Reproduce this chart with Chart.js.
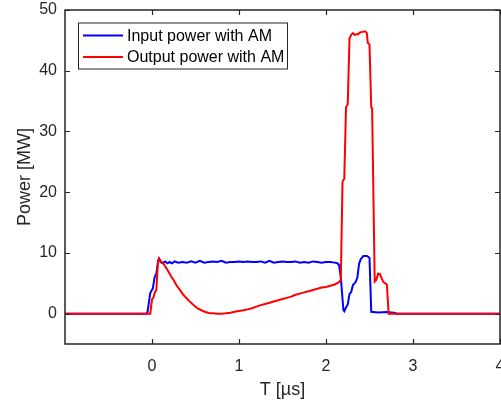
<!DOCTYPE html>
<html><head><meta charset="utf-8">
<script src="https://cdn.jsdelivr.net/npm/chart.js@4/dist/chart.umd.min.js"></script>
<style>html,body{margin:0;padding:0;background:#fff}#wrap{width:501px;height:403px}</style>
</head><body><div id="wrap"><canvas id="c" width="501" height="403"></canvas></div>
<script>
// Input power with AM (time in µs, power in MW)
const tIn = [-1, -0.06, -0.05, -0.02, 0.01, 0.03, 0.05, 0.07, 0.085, 0.1, 0.12, 0.15, 0.18, 0.2, 0.23, 0.26, 0.3, 0.35, 0.4, 0.45, 0.5, 0.55, 0.6, 0.65, 0.7, 0.75, 0.8, 0.85, 0.9, 0.95, 1.0, 1.05, 1.1, 1.15, 1.2, 1.25, 1.3, 1.35, 1.4, 1.45, 1.5, 1.55, 1.6, 1.65, 1.7, 1.75, 1.8, 1.85, 1.9, 1.95, 2.0, 2.05, 2.1, 2.13, 2.15, 2.16, 2.17, 2.2, 2.21, 2.23, 2.25, 2.27, 2.29, 2.31, 2.34, 2.36, 2.38, 2.4, 2.43, 2.47, 2.5, 2.52, 2.6, 2.7, 2.78, 2.82, 4];
const pIn = [0, 0, 0.4, 3.4, 4.2, 6.0, 6.6, 8.6, 9.0, 8.5, 8.3, 8.6, 8.3, 8.5, 8.3, 8.6, 8.4, 8.5, 8.4, 8.6, 8.4, 8.7, 8.4, 8.5, 8.6, 8.5, 8.7, 8.4, 8.5, 8.5, 8.6, 8.5, 8.6, 8.5, 8.5, 8.6, 8.4, 8.7, 8.4, 8.5, 8.6, 8.5, 8.5, 8.6, 8.4, 8.5, 8.4, 8.6, 8.5, 8.4, 8.5, 8.5, 8.4, 8.3, 8.0, 7.0, 6.0, 0.6, 0.4, 1.0, 1.5, 3.2, 3.6, 4.7, 5.2, 5.9, 8.2, 9.0, 9.5, 9.5, 9.2, 0.3, 0.2, 0.25, 0.15, 0, 0];
// Output power with AM
const tOut = [-1, -0.02, 0.0, 0.02, 0.03, 0.05, 0.07, 0.08, 0.1, 0.13, 0.16, 0.19, 0.22, 0.25, 0.28, 0.32, 0.36, 0.4, 0.44, 0.48, 0.52, 0.56, 0.6, 0.65, 0.7, 0.75, 0.8, 0.85, 0.9, 0.95, 1.0, 1.05, 1.1, 1.15, 1.2, 1.25, 1.3, 1.35, 1.4, 1.45, 1.5, 1.55, 1.6, 1.65, 1.7, 1.75, 1.8, 1.85, 1.9, 1.95, 2.0, 2.05, 2.1, 2.14, 2.17, 2.19, 2.21, 2.23, 2.25, 2.27, 2.29, 2.31, 2.33, 2.35, 2.37, 2.39, 2.42, 2.45, 2.47, 2.48, 2.5, 2.52, 2.53, 2.56, 2.58, 2.6, 2.62, 2.64, 2.66, 2.7, 2.72, 4];
const pOut = [0, 0, 2.3, 2.8, 3.4, 3.9, 8.8, 9.0, 8.6, 8.3, 7.6, 6.9, 6.1, 5.5, 4.7, 3.9, 3.1, 2.5, 1.9, 1.4, 0.9, 0.6, 0.35, 0.1, 0.05, 0, 0, 0.05, 0.15, 0.3, 0.45, 0.55, 0.7, 0.9, 1.15, 1.4, 1.6, 1.8, 2.0, 2.2, 2.4, 2.6, 2.8, 3.1, 3.3, 3.5, 3.7, 3.9, 4.1, 4.3, 4.4, 4.6, 4.8, 5.1, 5.5, 21.8, 22.2, 34.0, 34.5, 45.3, 45.9, 46.2, 45.9, 46.0, 46.0, 46.3, 46.4, 46.5, 46.2, 44.6, 44.3, 34.0, 33.8, 5.3, 5.6, 6.6, 6.5, 5.8, 5.2, 4.8, 0, 0];

const xTicks = [0, 1, 2, 3, 4];
const yTicks = [0, 10, 20, 30, 40, 50];
const seriesNames = ['Input power with AM', 'Output power with AM'];
const seriesColors = ['#0000ff', '#ff0000'];
const xTitle = 'T [µs]';
const yTitle = 'Power [MW]';

const FONT = "'Liberation Sans', Arial, Helvetica, sans-serif";
const toXY = (t, p) => t.map((v, i) => ({x: v, y: p[i]}));

const framePlugin = {
  id: 'frame',
  afterDatasetsDraw(chart) {
    const {ctx, chartArea: a, scales: {x, y}} = chart;
    ctx.save();
    ctx.strokeStyle = '#262626';
    ctx.lineWidth = 1.5;
    ctx.strokeRect(a.left, a.top, a.right - a.left, a.bottom - a.top);
    ctx.beginPath();
    xTicks.forEach(v => {
      const px = Math.round(x.getPixelForValue(v)) + 0.5;
      ctx.moveTo(px, a.bottom); ctx.lineTo(px, a.bottom - 5);
      ctx.moveTo(px, a.top); ctx.lineTo(px, a.top + 5);
    });
    yTicks.forEach(v => {
      const py = Math.round(y.getPixelForValue(v)) + 0.5;
      ctx.moveTo(a.left, py); ctx.lineTo(a.left + 5, py);
      ctx.moveTo(a.right, py); ctx.lineTo(a.right - 5, py);
    });
    ctx.lineWidth = 1.2;
    ctx.stroke();
    // legend box
    const bx = 78.5, by = 23, bw = 209, bh = 46;
    ctx.fillStyle = '#fff';
    ctx.fillRect(bx, by, bw, bh);
    ctx.strokeStyle = '#262626';
    ctx.lineWidth = 1;
    ctx.strokeRect(bx, by, bw, bh);
    const rows = [35.5, 57];
    ctx.font = '16px ' + FONT;
    ctx.textBaseline = 'middle';
    ctx.textAlign = 'left';
    chart.data.datasets.forEach((ds, i) => {
      ctx.strokeStyle = ds.borderColor;
      ctx.lineWidth = 2;
      ctx.beginPath();
      ctx.moveTo(83, rows[i]); ctx.lineTo(123, rows[i]);
      ctx.stroke();
      ctx.fillStyle = '#000';
      ctx.fillText(ds.label, 127, rows[i] + 1);
    });
    ctx.restore();
  }
};

new Chart(document.getElementById('c'), {
  type: 'line',
  data: {
    datasets: [
      {label: seriesNames[0], data: toXY(tIn, pIn), borderColor: seriesColors[0], borderWidth: 2, pointRadius: 0, tension: 0, order: 1, fill: false},
      {label: seriesNames[1], data: toXY(tOut, pOut), borderColor: seriesColors[1], borderWidth: 2, pointRadius: 0, tension: 0, order: 0, fill: false}
    ]
  },
  options: {
    responsive: false,
    animation: false,
    devicePixelRatio: 1,
    layout: {padding: {top: 10, right: 1, left: 0, bottom: 0}},
    plugins: {legend: {display: false}, tooltip: {enabled: false}},
    scales: {
      x: {
        type: 'linear', min: -1, max: 4,
        grid: {display: false, drawTicks: false},
        border: {display: false},
        afterBuildTicks: s => { s.ticks = xTicks.map(v => ({value: v})); },
        ticks: {color: '#262626', font: {family: FONT, size: 16}, padding: 13, maxRotation: 0, autoSkip: false},
        title: {display: true, text: xTitle, color: '#262626', font: {family: FONT, size: 18}, padding: {top: 4, bottom: 2}},
        afterFit: s => { s.height = 59; s.paddingLeft = 0; s.paddingRight = 0; }
      },
      y: {
        type: 'linear', min: -5, max: 50,
        grid: {display: false, drawTicks: false},
        border: {display: false},
        afterBuildTicks: s => { s.ticks = yTicks.map(v => ({value: v})); },
        ticks: {color: '#262626', font: {family: FONT, size: 16}, padding: 8, autoSkip: false},
        title: {display: true, text: yTitle, color: '#262626', font: {family: FONT, size: 18}, padding: {top: 14, bottom: 4}},
        afterFit: s => { s.width = 65; s.paddingTop = 0; s.paddingBottom = 0; }
      }
    }
  },
  plugins: [framePlugin]
});
</script>
</body></html>
